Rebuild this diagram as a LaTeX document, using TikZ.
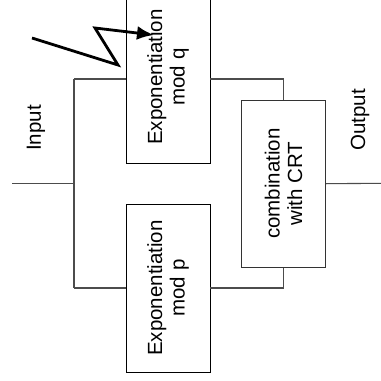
\documentclass[tikz,border=0pt]{standalone}
\usepackage{fontspec}
\setmainfont{Liberation Sans}
\usetikzlibrary{arrows.meta}
\begin{document}
\begin{tikzpicture}[x=1pt,y=-1pt,
  box/.style={draw=black,line width=0.9pt,rotate=90,align=center,inner sep=0pt,
    font=\fontsize{20.5}{22.5}\selectfont},
  wire/.style={draw=black!70,line width=1.1pt},
  lbl/.style={rotate=90,inner sep=0pt,font=\fontsize{20.5}{22.5}\selectfont},
  bolt/.style={draw=black,line width=2.8pt,-{Latex[length=17pt,width=14pt]}}]
\useasboundingbox (0,0) rectangle (381,381);
\fill[white] (0,0) rectangle (381,381);
% boxes
\node[box,minimum width=172pt,minimum height=84pt] (boxq) at (168,77) {Exponentiation\\mod q};
\node[box,minimum width=168pt,minimum height=84pt] (boxp) at (168,288) {Exponentiation\\mod p};
\node[box,draw=black!80,minimum width=167pt,minimum height=84pt] (crt) at (283.5,183.7) {combination\\with CRT};
% coordinates
\coordinate (inS) at (12,183.3);
\coordinate (inJ) at (74,183.3);
\coordinate (lT) at (74,79);
\coordinate (lB) at (74,288);
\coordinate (rT) at (283.5,79);
\coordinate (rB) at (283.5,288);
\coordinate (outE) at (381,183.3);
% wires (rotated boxes: north = left side, south = right side)
\draw[wire] (inS) -- (inJ);
\draw[wire] (lT) -- (lB);
\draw[wire] (lT) -- (lT -| boxq.north);
\draw[wire] (lB) -- (lB -| boxp.north);
\draw[wire] (rT -| boxq.south) -- (rT) -- (crt.east);
\draw[wire] (rB -| boxp.south) -- (rB) -- (crt.west);
\draw[wire] (crt.south) -- (outE);
% labels
\node[lbl] (inlbl) at (36,128) {Input};
\node[lbl] (outlbl) at (360,120) {Output};
% lightning
\coordinate (z0) at (32,38);
\coordinate (z1) at (118,65);
\coordinate (z2) at (95,28);
\coordinate (z3) at (154,35);
\draw[bolt] (z0) -- (z1) -- (z2) -- (z3);
\end{tikzpicture}
\end{document}
